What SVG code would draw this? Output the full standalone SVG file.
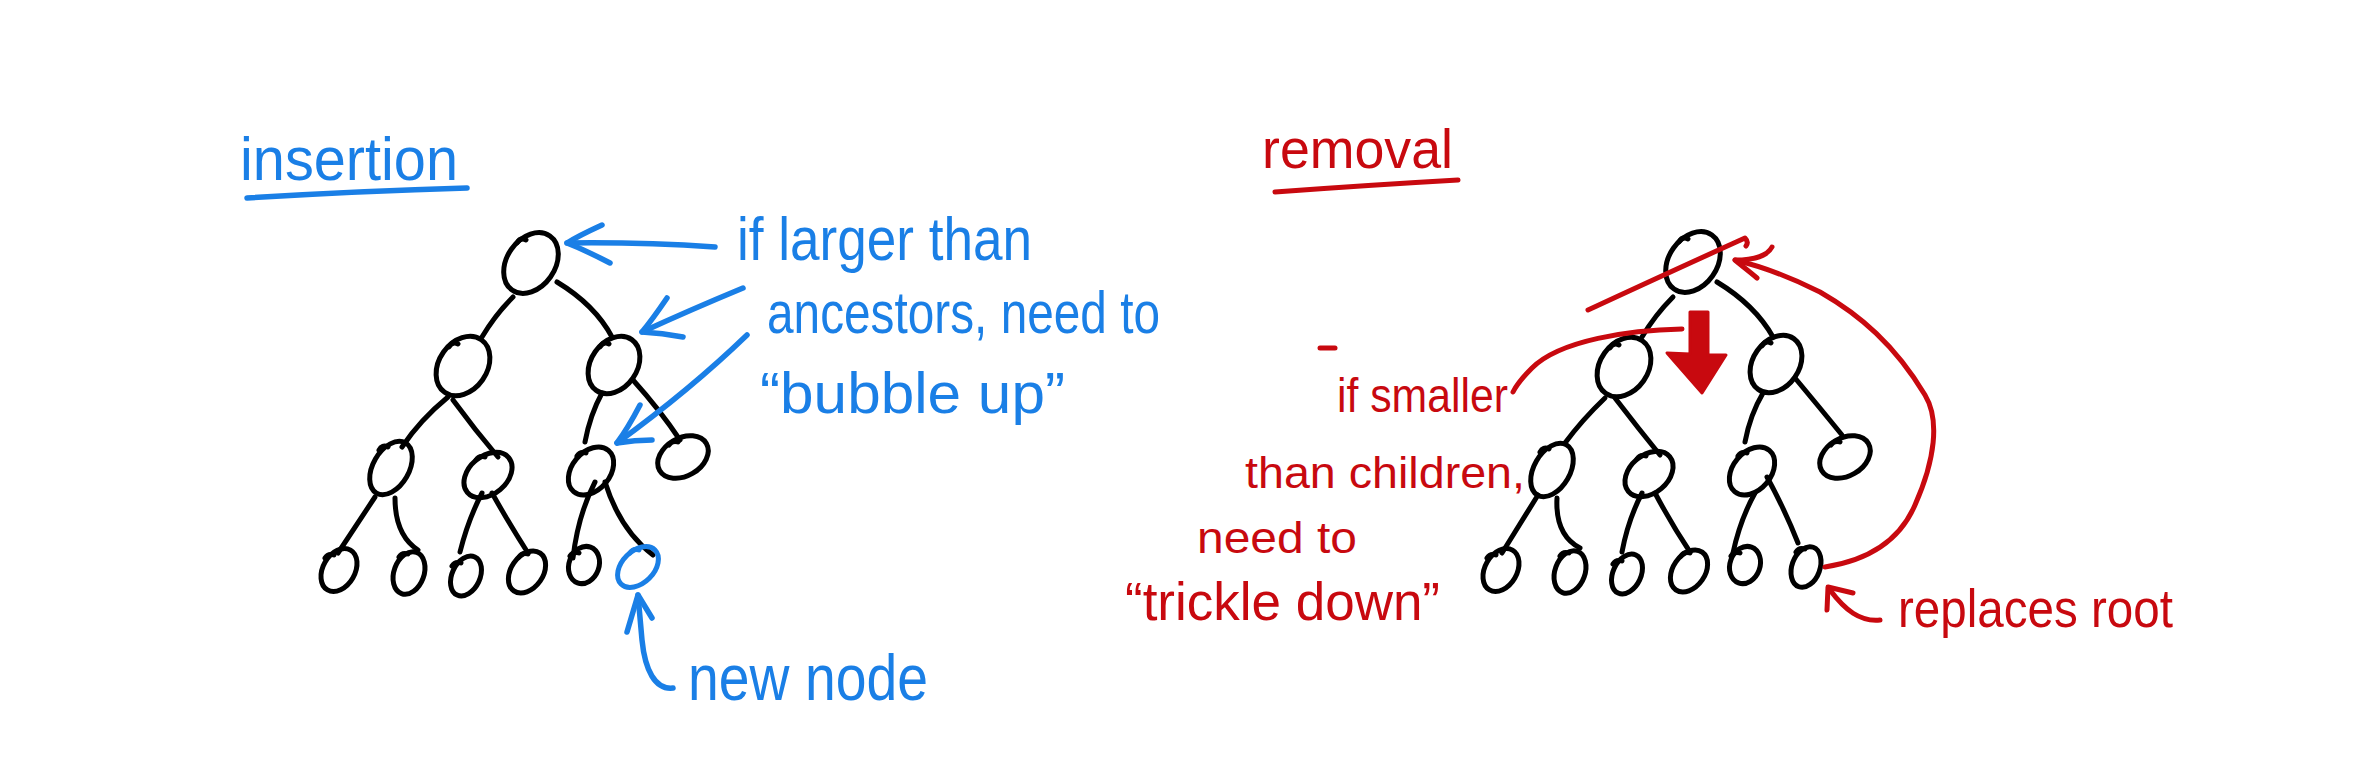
<svg xmlns="http://www.w3.org/2000/svg" width="2371" height="764" viewBox="0 0 2371 764">
<style>
.bg{fill:#ffffff}
.nd ellipse,.nd path{fill:none;stroke:#000;stroke-width:5;stroke-linecap:round}
.nd.blue ellipse,.nd.blue path{stroke:#1a7fe6}
.edge{fill:none;stroke:#000;stroke-width:5;stroke-linecap:round}
.bl{fill:none;stroke:#1a7fe6;stroke-width:5.5;stroke-linecap:round;stroke-linejoin:round}
.rd{fill:none;stroke:#c8090f;stroke-width:5;stroke-linecap:round;stroke-linejoin:round}
.tb{fill:#1a7fe6;font-family:"Liberation Sans",Arial,sans-serif}
.tr{fill:#c8090f;font-family:"Liberation Sans",Arial,sans-serif}
</style>
<rect class="bg" x="0" y="0" width="2371" height="764"/>

<!-- titles -->
<g id="title-insertion">
<text class="tb" x="240" y="180" font-size="62" textLength="218" lengthAdjust="spacingAndGlyphs">insertion</text>
<path class="bl" d="M247,198 Q360,191 467,188"/>
</g>
<g id="title-removal">
<text class="tr" x="1262" y="168" font-size="56" textLength="191" lengthAdjust="spacingAndGlyphs">removal</text>
<path class="rd" d="M1275,192 Q1370,185 1458,180"/>
</g>

<!-- left tree connectors -->
<g id="connectors-left">
<path class="edge" d="M513,297 Q495,315 482,337"/>
<path class="edge" d="M557,282 Q595,305 612,337"/>
<path class="edge" d="M448,397 Q420,420 402,447"/>
<path class="edge" d="M453,400 Q475,430 498,457"/>
<path class="edge" d="M602,393 Q590,415 585,442"/>
<path class="edge" d="M633,380 Q660,410 680,440"/>
<path class="edge" d="M375,497 L338,553"/>
<path class="edge" d="M395,498 Q395,535 418,550"/>
<path class="edge" d="M482,493 Q468,520 460,552"/>
<path class="edge" d="M492,493 Q510,525 528,553"/>
<path class="edge" d="M595,482 Q578,515 573,558"/>
<path class="edge" d="M605,482 Q620,530 653,555"/>
</g>

<!-- left tree nodes -->
<g id="L-root" class="nd" transform="translate(531,263)"><ellipse rx="24" ry="33" transform="rotate(35)"/><path d="M-14,-20 q3,-6 9,-3"/></g>
<g id="L-2a" class="nd" transform="translate(463,366)"><ellipse rx="24" ry="32" transform="rotate(35)"/><path d="M-14,-19 q3,-6 9,-3"/></g>
<g id="L-2b" class="nd" transform="translate(614,365)"><ellipse rx="23" ry="31" transform="rotate(35)"/><path d="M-14,-18 q3,-6 9,-3"/></g>
<g id="L-3a" class="nd" transform="translate(391,468)"><ellipse rx="18" ry="29" transform="rotate(30)"/><path d="M-12,-18 q3,-6 9,-3"/></g>
<g id="L-3b" class="nd" transform="translate(488,475)"><ellipse rx="19" ry="27" transform="rotate(50)"/><path d="M-12,-15 q3,-5 9,-3"/></g>
<g id="L-3c" class="nd" transform="translate(591,471)"><ellipse rx="19" ry="27" transform="rotate(40)"/><path d="M-14,-15 q3,-5 9,-3"/></g>
<g id="L-3d" class="nd" transform="translate(683,457)"><ellipse rx="19" ry="27" transform="rotate(60)"/><path d="M-14,-12 q3,-5 9,-3"/></g>
<g id="L-4a" class="nd" transform="translate(339,570)"><ellipse rx="16" ry="23" transform="rotate(30)"/><path d="M-14,-12 q3,-5 9,-3"/></g>
<g id="L-4b" class="nd" transform="translate(409,573)"><ellipse rx="15" ry="22" transform="rotate(20)"/><path d="M-10,-16 q3,-5 9,-3"/></g>
<g id="L-4c" class="nd" transform="translate(466,576)"><ellipse rx="14" ry="21" transform="rotate(25)"/><path d="M-14,-10 q3,-5 9,-3"/></g>
<g id="L-4d" class="nd" transform="translate(527,572)"><ellipse rx="16" ry="23" transform="rotate(35)"/><path d="M-8,-15 q3,-5 9,-3"/></g>
<g id="L-4e" class="nd" transform="translate(584,565)"><ellipse rx="15" ry="19" transform="rotate(20)"/><path d="M-14,-9 q3,-5 9,-3"/></g>
<g id="L-4f-new" class="nd blue" transform="translate(638,567)"><ellipse rx="16" ry="24" transform="rotate(45)"/><path d="M-8,-14 q3,-5 9,-3"/></g>

<!-- blue annotations -->
<g id="insertion-arrows">
<path class="bl" d="M715,247 Q640,242 567,243"/>
<path class="bl" d="M602,225 Q578,236 567,243 Q585,250 610,263"/>
<path class="bl" d="M743,288 Q690,310 642,332"/>
<path class="bl" d="M667,298 Q652,320 642,332 Q662,333 683,337"/>
<path class="bl" d="M747,335 Q690,390 617,443"/>
<path class="bl" d="M640,405 Q628,428 617,443 Q635,440 652,440"/>
<path class="bl" d="M673,688 C655,690 645,670 642,640 L638,595"/>
<path class="bl" d="M627,632 L638,595 L652,618"/>
</g>
<g id="insertion-notes">
<text class="tb" x="737" y="260" font-size="62" textLength="295" lengthAdjust="spacingAndGlyphs">if larger than</text>
<text class="tb" x="767" y="333" font-size="60" textLength="393" lengthAdjust="spacingAndGlyphs">ancestors, need to</text>
<text class="tb" x="760" y="413" font-size="58" textLength="305" lengthAdjust="spacingAndGlyphs">“bubble up”</text>
<text class="tb" x="688" y="700" font-size="64" textLength="240" lengthAdjust="spacingAndGlyphs">new node</text>
</g>

<!-- right tree connectors -->
<g id="connectors-right">
<path class="edge" d="M1673,297 Q1655,315 1642,337"/>
<path class="edge" d="M1717,282 Q1755,305 1773,337"/>
<path class="edge" d="M1605,398 Q1582,420 1565,443"/>
<path class="edge" d="M1615,398 Q1638,428 1660,455"/>
<path class="edge" d="M1763,393 Q1750,415 1745,442"/>
<path class="edge" d="M1795,378 Q1820,408 1842,435"/>
<path class="edge" d="M1538,495 L1502,553"/>
<path class="edge" d="M1557,498 Q1555,535 1580,548"/>
<path class="edge" d="M1642,493 Q1628,520 1622,552"/>
<path class="edge" d="M1655,493 Q1672,525 1690,552"/>
<path class="edge" d="M1755,493 Q1740,520 1733,553"/>
<path class="edge" d="M1767,477 Q1785,510 1798,543"/>
</g>

<!-- right tree nodes -->
<g id="R-root" class="nd" transform="translate(1693,262)"><ellipse rx="24" ry="33" transform="rotate(35)"/><path d="M-14,-20 q3,-6 9,-3"/></g>
<g id="R-2a" class="nd" transform="translate(1624,367)"><ellipse rx="24" ry="32" transform="rotate(35)"/><path d="M-14,-19 q3,-6 9,-3"/></g>
<g id="R-2b" class="nd" transform="translate(1776,364)"><ellipse rx="23" ry="31" transform="rotate(35)"/><path d="M-14,-18 q3,-6 9,-3"/></g>
<g id="R-3a" class="nd" transform="translate(1552,470)"><ellipse rx="18" ry="29" transform="rotate(30)"/><path d="M-12,-18 q3,-6 9,-3"/></g>
<g id="R-3b" class="nd" transform="translate(1649,474)"><ellipse rx="19" ry="27" transform="rotate(50)"/><path d="M-12,-15 q3,-5 9,-3"/></g>
<g id="R-3c" class="nd" transform="translate(1752,471)"><ellipse rx="19" ry="27" transform="rotate(40)"/><path d="M-14,-15 q3,-5 9,-3"/></g>
<g id="R-3d" class="nd" transform="translate(1845,457)"><ellipse rx="19" ry="27" transform="rotate(60)"/><path d="M-14,-12 q3,-5 9,-3"/></g>
<g id="R-4a" class="nd" transform="translate(1501,570)"><ellipse rx="16" ry="23" transform="rotate(30)"/><path d="M-14,-12 q3,-5 9,-3"/></g>
<g id="R-4b" class="nd" transform="translate(1570,572)"><ellipse rx="15" ry="22" transform="rotate(20)"/><path d="M-10,-16 q3,-5 9,-3"/></g>
<g id="R-4c" class="nd" transform="translate(1627,574)"><ellipse rx="14" ry="21" transform="rotate(25)"/><path d="M-14,-10 q3,-5 9,-3"/></g>
<g id="R-4d" class="nd" transform="translate(1689,571)"><ellipse rx="16" ry="23" transform="rotate(35)"/><path d="M-8,-15 q3,-5 9,-3"/></g>
<g id="R-4e" class="nd" transform="translate(1745,565)"><ellipse rx="15" ry="19" transform="rotate(20)"/><path d="M-14,-9 q3,-5 9,-3"/></g>
<g id="R-4f" class="nd" transform="translate(1806,567)"><ellipse rx="14" ry="21" transform="rotate(20)"/><path d="M-10,-15 q3,-5 9,-3"/></g>

<!-- red annotations -->
<g id="removal-marks">
<path class="rd" d="M1588,310 Q1670,272 1745,238 Q1749,242 1746,246"/>
<path d="M1690,312 L1708,312 L1708,355 L1726,355 L1702,393 L1667,353 L1690,354 Z" fill="#c8090f" stroke="#c8090f" stroke-width="3" stroke-linejoin="round"/>
<path class="rd" d="M1682,329 C1630,330 1560,340 1532,368 Q1518,382 1513,392"/>
<path class="rd" d="M1825,567 C1870,560 1900,540 1915,505 C1935,460 1940,420 1925,395 C1895,345 1860,315 1820,292 C1790,277 1760,266 1735,260"/>
<path class="rd" d="M1772,247 C1768,255 1755,260 1735,260 C1742,266 1750,272 1757,278"/>
<path class="rd" d="M1827,610 L1828,587 L1853,593"/>
<path class="rd" d="M1830,590 C1845,610 1860,622 1880,620"/>
<path class="rd" d="M1320,348 L1335,348"/>
</g>
<g id="removal-notes">
<text class="tr" x="1337" y="412" font-size="48" textLength="171" lengthAdjust="spacingAndGlyphs">if smaller</text>
<text class="tr" x="1245" y="488" font-size="44" textLength="280" lengthAdjust="spacingAndGlyphs">than children,</text>
<text class="tr" x="1197" y="553" font-size="44" textLength="160" lengthAdjust="spacingAndGlyphs">need to</text>
<text class="tr" x="1125" y="620" font-size="54" textLength="315" lengthAdjust="spacingAndGlyphs">“trickle down”</text>
<text class="tr" x="1898" y="627" font-size="54" textLength="275" lengthAdjust="spacingAndGlyphs">replaces root</text>
</g>
</svg>
